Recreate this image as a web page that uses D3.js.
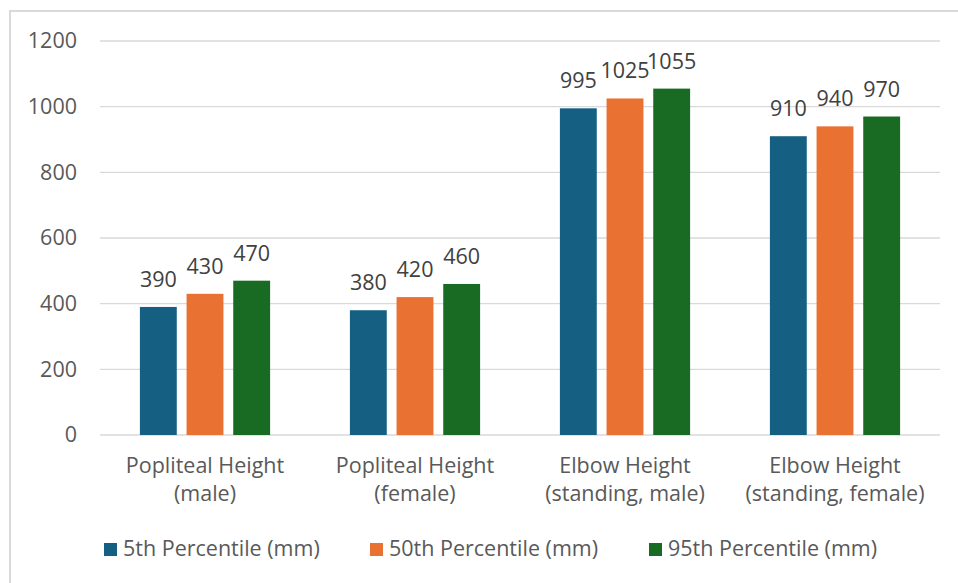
<!DOCTYPE html>
<html>
<head>
<meta charset="utf-8">
<script src="https://cdn.jsdelivr.net/npm/d3@7"></script>
<style>
  body { margin: 0; background: #fff; }
  text { font-family: "Open Sans", Roboto, sans-serif; }
</style>
</head>
<body>
<svg width="958" height="583"></svg>
<script>
// categories and series
var categories = [["Popliteal Height", "(male)"], ["Popliteal Height", "(female)"],
                  ["Elbow Height", "(standing, male)"], ["Elbow Height", "(standing, female)"]];
var seriesNames = ["5th Percentile (mm)", "50th Percentile (mm)", "95th Percentile (mm)"];
var p5 = [390, 380, 995, 910];
var p50 = [430, 420, 1025, 940];
var p95 = [470, 460, 1055, 970];
var yTicks = [0, 200, 400, 600, 800, 1000, 1200];
var colors = ["#156082", "#E97132", "#196B24"];

var values = [p5, p50, p95];
var svg = d3.select("svg");
var fontSize = 21.5;

// chart frame (cut off on the right and bottom like the source)
svg.append("rect")
    .attr("x", 10).attr("y", 11)
    .attr("width", 960).attr("height", 590)
    .attr("fill", "none").attr("stroke", "#d9d9d9").attr("stroke-width", 2);

var plotLeft = 100, plotRight = 940, plotTop = 41, plotBottom = 435;

var y = d3.scaleLinear().domain([0, 1200]).range([plotBottom, plotTop]);
var x0 = d3.scaleBand().domain(d3.range(categories.length)).range([plotLeft, plotRight]).paddingInner(0.38).paddingOuter(0.19);
var x1 = d3.scaleBand().domain(d3.range(seriesNames.length)).range([0, x0.bandwidth()]).paddingInner(0.21).paddingOuter(0);

// gridlines
svg.append("g").selectAll("line")
    .data(yTicks)
    .enter()
    .append("line")
    .attr("x1", plotLeft).attr("x2", plotRight)
    .attr("y1", function (d) { return y(d); })
    .attr("y2", function (d) { return y(d); })
    .attr("stroke", "#d9d9d9").attr("stroke-width", 1.3);

// y axis labels
var yAxis = d3.axisLeft(y).tickValues(yTicks).tickFormat(d3.format("d")).tickSize(0).tickPadding(23);
var gy = svg.append("g").attr("transform", "translate(" + plotLeft + ",0)").call(yAxis);
gy.select(".domain").remove();
gy.selectAll("text").attr("font-size", fontSize).attr("fill", "#595959")
    .attr("font-family", "'Open Sans', sans-serif");

// bars
var groups = svg.append("g").selectAll("g")
    .data(categories)
    .enter()
    .append("g")
    .attr("transform", function (d, i) { return "translate(" + x0(i) + ",0)"; });

groups.selectAll("rect")
    .data(function (d, i) { return values.map(function (s) { return s[i]; }); })
    .enter()
    .append("rect")
    .attr("x", function (d, j) { return x1(j); })
    .attr("y", function (d) { return y(d); })
    .attr("width", x1.bandwidth())
    .attr("height", function (d) { return plotBottom - y(d); })
    .attr("fill", function (d, j) { return colors[j]; });

groups.selectAll("text.val")
    .data(function (d, i) { return values.map(function (s) { return s[i]; }); })
    .enter()
    .append("text")
    .attr("class", "val")
    .attr("x", function (d, j) { return x1(j) + x1.bandwidth() / 2; })
    .attr("y", function (d) { return y(d) - 20; })
    .attr("text-anchor", "middle")
    .attr("font-size", fontSize)
    .attr("fill", "#404040")
    .text(function (d) { return d; });

// category labels
var cat = svg.append("g").selectAll("text")
    .data(categories)
    .enter()
    .append("text")
    .attr("y", 473)
    .attr("text-anchor", "middle")
    .attr("font-size", fontSize)
    .attr("fill", "#595959");
cat.append("tspan").attr("x", function (d, i) { return x0(i) + x0.bandwidth() / 2; })
    .text(function (d) { return d[0]; });
cat.append("tspan").attr("x", function (d, i) { return x0(i) + x0.bandwidth() / 2; })
    .attr("dy", 28)
    .text(function (d) { return d[1]; });

// legend
var legendX = [104, 370, 649];
var legend = svg.append("g").selectAll("g")
    .data(seriesNames)
    .enter()
    .append("g")
    .attr("transform", function (d, i) { return "translate(" + legendX[i] + ",543)"; });
legend.append("rect")
    .attr("width", 13).attr("height", 13)
    .attr("fill", function (d, i) { return colors[i]; });
legend.append("text")
    .attr("x", 19).attr("y", 13)
    .attr("font-size", fontSize)
    .attr("fill", "#595959")
    .text(function (d) { return d; });
</script>
</body>
</html>
